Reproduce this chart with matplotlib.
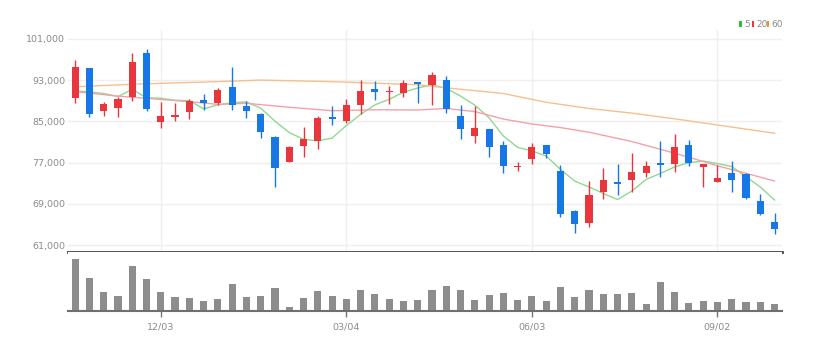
import matplotlib
matplotlib.use('Agg')
import matplotlib.pyplot as plt
from matplotlib.patches import Rectangle
import numpy as np

plt.rcParams['font.family'] = ['Liberation Sans Narrow', 'DejaVu Sans']

# weekly candles (open / high / low / close)
opens = [89500, 95300, 87000, 87650, 89800, 98300, 84950, 85800, 86900, 89100,
         88600, 91700, 88000, 86400, 82000, 77200, 80200, 81200, 85900, 85100,
         88200, 91200, 90650, 90450, 92550, 92050, 93000, 86100, 82200, 83500,
         80400, 76300, 77700, 80400, 75400, 67700, 65400, 71250, 73250, 73650,
         74950, 76900, 76750, 80400, 76100, 73300, 74950, 74800, 69600, 65550]
highs = [96800, 95300, 88700, 89700, 98300, 99000, 88800, 88500, 89300, 90300,
         91500, 95500, 88950, 86700, 82200, 80200, 83850, 86050, 88000, 89300,
         93000, 92800, 91850, 93000, 92600, 94500, 93800, 88200, 88000, 83550,
         81200, 77200, 80750, 80450, 76550, 67750, 73500, 75900, 76700, 78950,
         77400, 81200, 82500, 81400, 76750, 76550, 77400, 75050, 70950, 67200]
lows = [88600, 85900, 86000, 85800, 88950, 87100, 83650, 85100, 85450, 87150,
        88200, 87200, 85600, 81700, 72350, 77100, 78150, 79600, 84300, 84650,
        86400, 89100, 88300, 89650, 88500, 88200, 86550, 81600, 80850, 78050,
        75050, 75400, 76750, 77850, 66550, 63300, 64600, 69950, 70750, 71400,
        74300, 74150, 75250, 76350, 72350, 73300, 71400, 70000, 66900, 63200]
closes = [95600, 86400, 88300, 89300, 96450, 87350, 86050, 86250, 88950, 88600,
          91100, 88200, 87000, 82900, 76000, 80100, 81600, 85600, 85500, 88200,
          90950, 90750, 90950, 92400, 92300, 93950, 87400, 83450, 83650, 80000,
          76350, 76400, 80000, 78700, 67050, 65050, 70750, 73650, 72800, 75250,
          76350, 76500, 80000, 77000, 76700, 73950, 73650, 70100, 67050, 64100]
volumes = [517, 327, 193, 150, 450, 320, 187, 137, 133, 100,
           120, 273, 137, 150, 227, 40, 130, 200, 150, 120,
           210, 170, 123, 100, 110, 207, 247, 210, 113, 163,
           183, 113, 150, 103, 240, 143, 207, 167, 167, 183,
           67, 293, 193, 83, 103, 87, 117, 87, 87, 73]

# moving averages
ma5 = [90900, 90700, 90400, 89800, 91210, 89560, 89490, 89080, 89010, 87440,
       88190, 88620, 88770, 87560, 85040, 82840, 81520, 81240, 81760, 84200,
       86370, 88200, 89270, 90650, 91470, 92070, 91400, 89900, 88150, 85690,
       82170, 79970, 79280, 78290, 75700, 73440, 72310, 71040, 69860, 71500,
       73760, 74910, 76180, 77020, 77310, 76830, 76260, 74280, 72290, 69770]
ma20_idx = [0, 3, 5, 8, 10, 12, 15, 18, 21, 24, 26, 28, 30, 32, 34, 36, 38, 39, 41, 43, 45, 47, 49]
ma20 = [90750, 89900, 89470, 88820, 88300, 88500, 87730, 87070, 87250, 87210, 87500, 86900,
        85450, 84500, 83800, 82900, 81700, 81100, 79600, 78050, 76400, 74950, 73450]
ma60_idx = [0, 4, 10, 13, 18, 24, 26, 30, 33, 36, 39, 42, 45, 49]
ma60 = [91700, 92200, 92700, 93000, 92700, 92100, 91500, 90400, 88700, 87500, 86600, 85500, 84300, 82700]

tick_pos = [6, 19, 32, 45]
tick_labels = ['12/03', '03/04', '06/03', '09/02']

RED = '#e8363c'
BLUE = '#1677e5'

o = np.array(opens)
h = np.array(highs)
l = np.array(lows)
c = np.array(closes)
x = np.arange(len(o))
colors = np.where(c > o, RED, BLUE)

W, H = 824, 350
fig = plt.figure(figsize=(W / 100, H / 100), dpi=100)
ax = fig.add_axes([68 / W, 1 - 251.7 / H, (781.7 - 68) / W, (251.7 - 30) / H])
axv = fig.add_axes([68 / W, 1 - 311 / H, (781.7 - 68) / W, (311 - 251.7) / H])

# price panel
ax.plot(x, ma5, color='#8fd98f', lw=1, zorder=2)
ax.plot(ma20_idx, ma20, color='#f3a1a9', lw=1, zorder=2)
ax.plot(ma60_idx, ma60, color='#f6c08e', lw=1, zorder=2)

ax.vlines(x, l, h, colors=colors, lw=1, zorder=3)
body_h = np.maximum(np.abs(c - o), 180)
body_bottom = (o + c) / 2 - body_h / 2
ax.bar(x, body_h, bottom=body_bottom, width=0.5, color=colors, linewidth=0, zorder=4)

ax.set_xlim(-0.5, 49.5)
ax.set_ylim(59760, 102700)
yt = list(range(61000, 101001, 8000))
ax.set_yticks(yt)
ax.set_yticklabels([f'{v:,}' for v in yt])
ax.set_xticks(tick_pos)
ax.tick_params(axis='x', length=0, labelbottom=False)
ax.tick_params(axis='y', length=0, pad=2, labelsize=6.8, labelcolor='#8a8a8a')
ax.grid(color='#efefef', lw=1, zorder=0)
ax.set_axisbelow(True)
for s in ['top', 'right', 'left']:
    ax.spines[s].set_visible(False)
ax.spines['bottom'].set_color('#444444')
ax.spines['bottom'].set_linewidth(2)

# volume panel
axv.bar(x, volumes, width=0.5, color='#8d8d8d', linewidth=0)
axv.set_xlim(-0.5, 49.5)
axv.set_ylim(0, 593)
axv.set_yticks([])
axv.set_xticks(tick_pos)
axv.set_xticklabels(tick_labels)
axv.tick_params(axis='x', length=4, width=1, color='#777777', pad=4,
                labelsize=6.8, labelcolor='#8a8a8a')
for s in ['top', 'right', 'left']:
    axv.spines[s].set_visible(False)
axv.spines['bottom'].set_color('#6f6f6f')
axv.spines['bottom'].set_linewidth(1.5)

# legend boxes in the top right corner
legend_items = [('5', '#2fbf3a', 739.3, 744.5), ('20', '#ee3340', 751.7, 756.8), ('60', '#f39030', 766.7, 771.5)]
for label, col, rx, tx in legend_items:
    fig.add_artist(Rectangle((rx / W, 1 - 27.3 / H), 2.6 / W, 6.3 / H,
                             transform=fig.transFigure, color=col, lw=0))
    fig.text(tx / W, 1 - 24.3 / H, label, va='center', ha='left', fontsize=6.5, color='#8a8a8a')

fig.savefig('out.png', dpi=100)
